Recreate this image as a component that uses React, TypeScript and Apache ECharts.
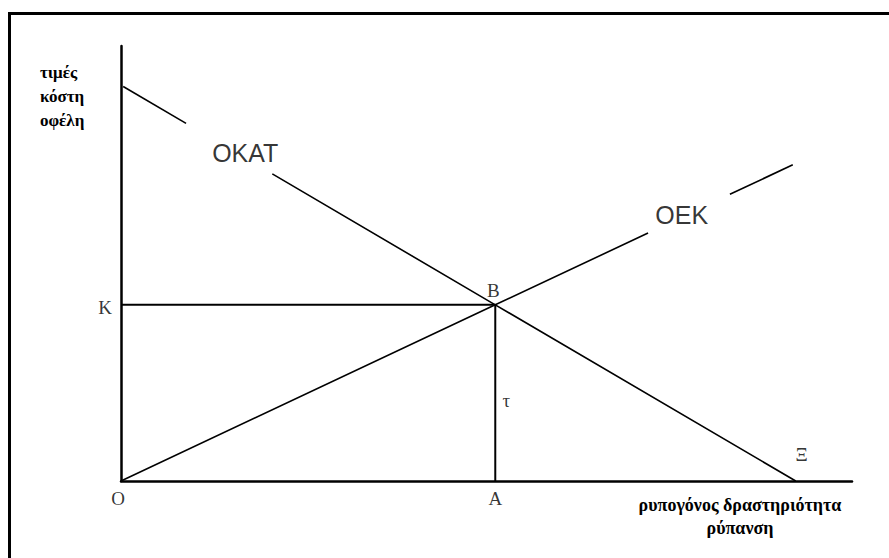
import React, { useEffect, useRef } from "react";
import * as echarts from "echarts";

// Downward-sloping curve ΟΚΑΤ (two segments, gap for its label)
const okatSeg1: number[][] = [[0.3, 90.7], [8.9, 82.2]];
const okatSeg2: number[][] = [[20.7, 70.6], [51.2, 40.5], [92.3, 0]];
// Upward-sloping curve ΟΕΚ (two segments, gap for its label)
const oekSeg1: number[][] = [[0, 0], [51.2, 40.5], [72.1, 57.0]];
const oekSeg2: number[][] = [[83.3, 65.9], [91.9, 72.7]];
// Guide lines to K and A
const kLine: number[][] = [[0, 40.5], [51.2, 40.5]];
const aLine: number[][] = [[51.2, 0], [51.2, 40.5]];

// Point labels: [name, x, y, offsetX, offsetY]
const pointLabels: [string, number, number, number, number][] = [
  ["K", 0, 40.5, -16, 3],
  ["O", 0, 0, -3, 17],
  ["A", 51.2, 0, 0, 17],
  ["B", 51.2, 40.5, -2, -14],
  ["τ", 51.2, 18.6, 11, 0],
  ["Ξ", 92.3, 0, 6, -27],
];
const curveLabels: [string, number, number][] = [
  ["OKAT", 17.0, 75.4],
  ["OEK", 76.7, 61.1],
];
const yAxisName = ["τιμές", "κόστη", "οφέλη"];
const xAxisName = ["ρυπογόνος δραστηριότητα", "ρύπανση"];

export default function App() {
  const ref = useRef<HTMLDivElement>(null);
  useEffect(() => {
    if (!ref.current) return;
    const chart = echarts.init(ref.current, null, { renderer: "svg" });
    const lineSeries = (data: number[][], width: number) => ({
      type: "line",
      data,
      showSymbol: false,
      symbol: "none",
      silent: true,
      clip: false,
      lineStyle: { color: "#000", width },
    });
    const serif = "Liberation Serif";
    chart.setOption({
      animation: false,
      backgroundColor: "#fff",
      grid: { left: 121, top: 46, width: 731, height: 435, containLabel: false },
      xAxis: {
        type: "value",
        min: 0,
        max: 100,
        axisLine: { show: true, lineStyle: { color: "#000", width: 2.5 } },
        axisTick: { show: false },
        axisLabel: { show: false },
        splitLine: { show: false },
      },
      yAxis: {
        type: "value",
        min: 0,
        max: 100,
        axisLine: { show: true, lineStyle: { color: "#000", width: 2.5 } },
        axisTick: { show: false },
        axisLabel: { show: false },
        splitLine: { show: false },
      },
      series: [
        lineSeries(okatSeg1, 1.6),
        lineSeries(okatSeg2, 1.6),
        lineSeries(oekSeg1, 1.6),
        lineSeries(oekSeg2, 1.6),
        lineSeries(kLine, 2),
        lineSeries(aLine, 2),
        {
          type: "scatter",
          symbolSize: 0,
          clip: false,
          silent: true,
          data: pointLabels.map(([n, x, y, ox, oy]) => ({
            name: n,
            value: [x, y],
            label: { offset: [ox, oy] },
          })),
          label: {
            show: true,
            position: "inside",
            formatter: "{b}",
            color: "#000",
            fontFamily: serif,
            fontSize: 19,
          },
        },
        {
          type: "scatter",
          symbolSize: 0,
          clip: false,
          silent: true,
          data: curveLabels.map(([n, x, y]) => ({ name: n, value: [x, y] })),
          label: {
            show: true,
            position: "inside",
            formatter: "{b}",
            color: "#000",
            fontFamily: "Liberation Sans",
            fontSize: 25,
          },
        },
      ],
      graphic: [
        {
          type: "rect",
          left: 7,
          top: 11,
          shape: { width: 900, height: 600 },
          style: { fill: "none", stroke: "#000", lineWidth: 3 },
          silent: true,
        },
        {
          type: "text",
          x: 40,
          y: 60,
          style: {
            text: yAxisName.join("\n"),
            fill: "#000",
            fontFamily: serif,
            fontSize: 17,
            fontWeight: "bold",
            lineHeight: 24,
            align: "left",
          },
        },
        {
          type: "text",
          x: 740,
          y: 493,
          style: {
            text: xAxisName.join("\n"),
            fill: "#000",
            fontFamily: serif,
            fontSize: 18,
            fontWeight: "bold",
            lineHeight: 23,
            align: "center",
          },
        },
      ],
    });
    return () => chart.dispose();
  }, []);
  return (
    <div
      ref={ref}
      style={{ position: "fixed", left: 0, top: 0, width: 889, height: 558, background: "#fff" }}
    />
  );
}
